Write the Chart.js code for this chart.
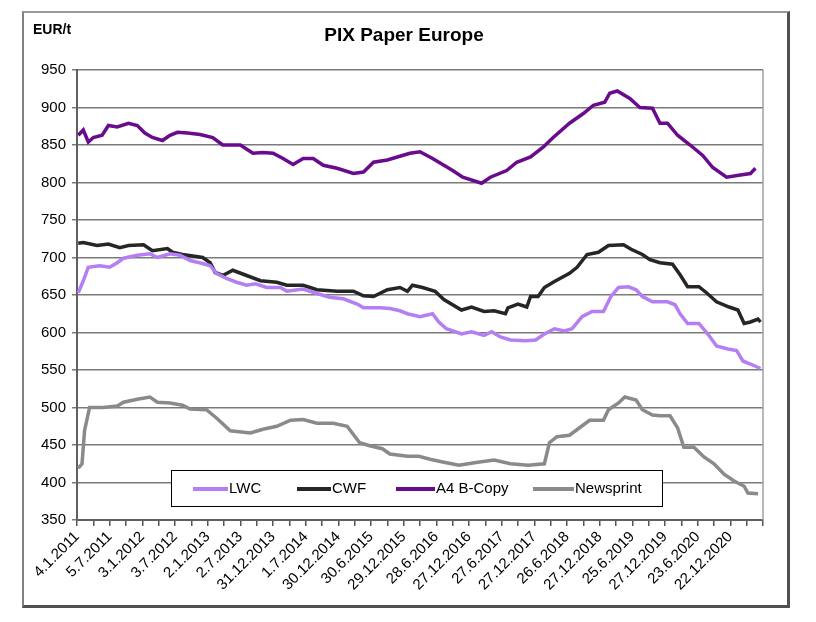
<!DOCTYPE html>
<html>
<head>
<meta charset="utf-8">
<script src="https://cdn.jsdelivr.net/npm/chart.js@4.4.0/dist/chart.umd.min.js"></script>
<style>
  body { margin: 0; background: #fff; }
  #wrap { position: relative; width: 816px; height: 622px; }
  #frame { position: absolute; left: 22px; top: 11px; width: 768px; height: 597px; box-sizing: border-box;
    border-left: 2px solid #808080; border-top: 2px solid #999; border-right: 3px solid #505050; border-bottom: 3px solid #505050; }
  canvas { position: absolute; left: 0; top: 0; }
</style>
</head>
<body>
<div id="wrap">
  <div id="frame"></div>
  <canvas id="paperChart" width="816" height="622"></canvas>
</div>
<script>
// x values are weeks since 4.1.2011, labels every 26 weeks
const tickLabels = ['4.1.2011', '5.7.2011', '3.1.2012', '3.7.2012', '2.1.2013', '2.7.2013', '31.12.2013',
  '1.7.2014', '30.12.2014', '30.6.2015', '29.12.2015', '28.6.2016', '27.12.2016', '27.6.2017',
  '27.12.2017', '26.6.2018', '27.12.2018', '25.6.2019', '27.12.2019', '23.6.2020', '22.12.2020'];

const lwcWeeks = [1,5,9,18,26,32,37,48,58,64,74,82,90,100,106,111,119,127,135,142,151,162,167,180,191,201,212,223,228,241,249,257,263,273,283,288,294,306,314,324,330,337,345,357,365,372,380,388,394,402,410,419,425,431,439,445,450,458,470,476,480,486,495,503,509,518,525,530,536,544];
const lwcValues = [653,669,687,689,687,693,699,703,705,700,705,703,696,692,689,679,672,667,663,665,660,660,655,658,652,647,645,638,633,633,632,629,625,621,625,614,605,598,601,596,601,594,590,589,590,598,605,602,605,621,628,628,648,660,661,657,648,641,641,637,625,612,612,596,582,578,576,562,558,552];

const cwfWeeks = [1,5,16,25,34,41,53,60,72,76,84,100,106,110,116,124,135,146,159,167,180,191,207,220,228,236,247,257,263,267,275,285,292,306,314,324,332,341,343,351,358,361,367,372,380,392,398,406,415,423,435,441,450,456,464,474,480,486,495,501,509,519,526,531,536,542,544];
const cwfValues = [719,720,716,718,713,716,717,709,712,707,704,700,693,680,676,683,676,669,667,663,663,657,655,655,649,648,657,660,655,663,660,655,644,630,634,628,629,625,633,638,634,648,648,660,668,679,687,704,707,716,717,711,704,697,693,691,677,661,661,653,641,634,630,612,614,618,614];

const a4Weeks = [1,5,9,13,20,25,32,41,48,54,60,68,74,80,88,98,108,116,130,140,148,156,164,172,180,188,196,207,220,228,236,247,255,265,273,283,299,307,322,329,342,350,361,371,379,392,403,411,420,424,430,440,448,458,464,470,478,488,498,506,517,528,536,540];
const a4Values = [863,870,854,860,863,876,874,879,876,866,860,856,863,867,866,864,860,850,850,839,840,839,832,824,832,832,823,819,812,814,827,830,834,839,841,832,816,807,799,807,816,827,834,847,860,879,892,903,907,919,922,912,900,899,879,879,863,850,836,820,807,810,812,819];

const newsWeeks = [1,4,6,10,21,32,37,48,58,64,74,84,90,103,111,122,138,148,159,170,180,191,204,215,225,233,243,249,263,272,281,292,304,319,332,345,359,372,376,382,392,400,408,419,423,431,436,445,450,458,464,472,478,483,491,499,507,515,523,531,534,542];
const newsValues = [419,425,469,500,500,502,507,511,514,507,506,503,498,497,486,469,466,471,475,483,484,479,479,475,453,449,445,438,435,435,431,427,423,427,430,425,423,425,453,461,463,473,483,483,497,506,514,510,497,490,489,489,473,447,447,434,425,411,402,395,386,385];

const FONT = 'Arial, "Liberation Sans", sans-serif';
Chart.defaults.font.family = FONT;

function toPoints(weeks, values) {
    return weeks.map((w, i) => ({ x: w, y: values[i] }));
}

function series(label, weeks, values, color) {
    return {
        label: label,
        data: toPoints(weeks, values),
        borderColor: color,
        backgroundColor: color,
        borderWidth: 3.5,
        pointRadius: 0,
        tension: 0,
        fill: false
    };
}

// legend box drawn inside the plot, like the original
const legendBox = {
    id: 'legendBox',
    afterDatasetsDraw(chart) {
        const ctx = chart.ctx;
        const sampleX = [193, 297, 396, 533];
        const textX = [229, 332, 436, 575];
        ctx.save();
        ctx.fillStyle = '#fff';
        ctx.fillRect(171, 470, 491, 36);
        ctx.strokeStyle = '#000';
        ctx.lineWidth = 1;
        ctx.strokeRect(171.5, 470.5, 491, 36);
        ctx.font = '15px ' + FONT;
        ctx.textBaseline = 'middle';
        chart.data.datasets.forEach((ds, i) => {
            ctx.strokeStyle = ds.borderColor;
            ctx.lineWidth = 4;
            ctx.beginPath();
            ctx.moveTo(sampleX[i], 489);
            ctx.lineTo(textX[i] - 1, 489);
            ctx.stroke();
            ctx.fillStyle = '#000';
            ctx.fillText(ds.label, textX[i], 489);
        });
        ctx.restore();
    }
};

// title, unit label and the plot's right border
const extras = {
    id: 'extras',
    afterDraw(chart) {
        const ctx = chart.ctx;
        const a = chart.chartArea;
        ctx.save();
        ctx.strokeStyle = '#a0a0a0';
        ctx.lineWidth = 1.5;
        ctx.beginPath();
        ctx.moveTo(a.right, a.top);
        ctx.lineTo(a.right, a.bottom);
        ctx.stroke();
        ctx.fillStyle = '#000';
        ctx.textBaseline = 'middle';
        ctx.font = 'bold 14px ' + FONT;
        ctx.fillText('EUR/t', 33, 30);
        ctx.font = 'bold 19px ' + FONT;
        ctx.textAlign = 'center';
        ctx.fillText('PIX Paper Europe', 404, 36);
        ctx.restore();
    }
};

const ctx = document.getElementById('paperChart').getContext('2d');
window.paperChart = new Chart(ctx, {
    type: 'line',
    data: {
        datasets: [
            series('LWC', lwcWeeks, lwcValues, '#b57ef2'),
            series('CWF', cwfWeeks, cwfValues, '#262626'),
            series('A4 B-Copy', a4Weeks, a4Values, '#6a0a8c'),
            series('Newsprint', newsWeeks, newsValues, '#8a8a8a')
        ]
    },
    options: {
        responsive: false,
        animation: false,
        devicePixelRatio: 1,
        layout: { padding: { left: 0, right: 53, top: 70, bottom: 0 } },
        plugins: {
            legend: { display: false },
            tooltip: { enabled: false },
            title: { display: false }
        },
        scales: {
            x: {
                type: 'linear',
                min: 0,
                max: 546,
                afterFit(scale) { scale.height = 102; },
                ticks: {
                    stepSize: 13,
                    autoSkip: false,
                    minRotation: 45,
                    maxRotation: 45,
                    color: '#000',
                    font: { size: 15 },
                    padding: 2,
                    callback: (value, index) => (index % 2 === 0 && tickLabels[index / 2]) ? tickLabels[index / 2] : ''
                },
                grid: { drawOnChartArea: false, drawTicks: true, tickLength: 6, color: '#555', lineWidth: 1.5 },
                border: { display: true, color: '#606060', width: 2 }
            },
            y: {
                min: 350,
                max: 950,
                afterFit(scale) { scale.width = 77; },
                ticks: { stepSize: 50, color: '#000', font: { size: 15 }, padding: 6 },
                grid: { color: '#7a7a7a', lineWidth: 1.5, tickLength: 5 },
                border: { color: '#606060', width: 2 }
            }
        }
    },
    plugins: [legendBox, extras]
});
</script>
</body>
</html>
